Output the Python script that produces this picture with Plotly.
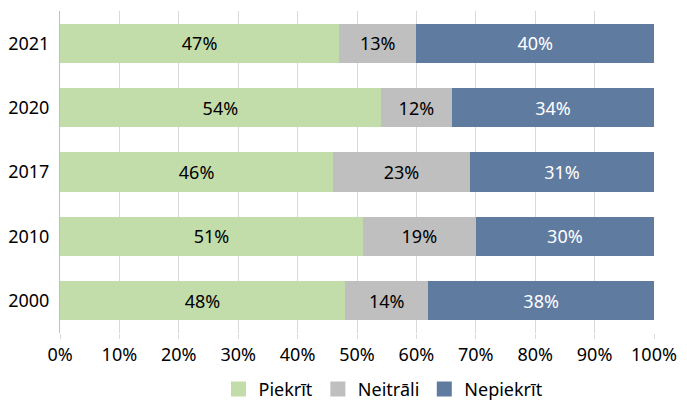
import plotly.graph_objects as go

years = ["2000", "2010", "2017", "2020", "2021"]
piekrit = [48, 51, 46, 54, 47]
neitrali = [14, 19, 23, 12, 13]
nepiekrit = [38, 30, 31, 34, 40]

series = [
    ("Piekrīt", piekrit, "#C2DDAA", "black"),
    ("Neitrāli", neitrali, "#BFBFBF", "black"),
    ("Nepiekrīt", nepiekrit, "#5F7B9F", "white"),
]

fig = go.Figure()
for name, vals, color, txtcol in series:
    fig.add_trace(go.Bar(
        y=years,
        x=vals,
        name=name,
        orientation='h',
        marker=dict(color=color, line=dict(width=0)),
        text=[f"{v}%" for v in vals],
        textposition='inside',
        insidetextanchor='middle',
        textfont=dict(color=txtcol, size=18),
        width=0.61,
        showlegend=False,
    ))
    # legend entry with a bigger square swatch
    fig.add_trace(go.Scatter(
        x=[None], y=[None], mode='markers', name=name,
        marker=dict(symbol='square', size=15, color=color),
    ))

# page body adds an 8px offset, so the figure is 8px smaller each way
fig.update_layout(
    barmode='stack',
    width=679,
    height=394,
    margin=dict(l=52, r=33, t=3, b=69),
    paper_bgcolor='white',
    plot_bgcolor='white',
    font=dict(family="Noto Sans", size=18, color="black"),
    uniformtext=dict(minsize=18, mode='show'),
    showlegend=True,
    legend=dict(orientation='h', xref='container', yref='container',
                x=0.553, xanchor='center', y=0.032, yanchor='middle',
                font=dict(size=18), traceorder='normal', itemwidth=30),
    bargap=0.39,
)
fig.update_xaxes(
    range=[0, 100],
    tickvals=list(range(0, 101, 10)),
    ticktext=[f"{v}%" for v in range(0, 101, 10)],
    showgrid=True, gridcolor="#D9D9D9", gridwidth=1,
    ticks='outside', ticklen=5, tickcolor="#D9D9D9",
    zeroline=False, showline=False, automargin=False,
    fixedrange=True,
)
fig.update_yaxes(
    showgrid=False, showline=True, linecolor="#BFBFBF", linewidth=1,
    ticks='', ticklabelstandoff=6, automargin=False,
)

fig.write_html("out.html")
